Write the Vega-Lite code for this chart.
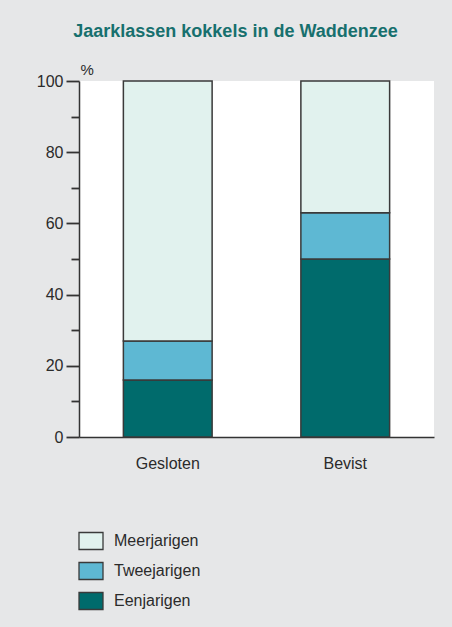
{
  "$schema": "https://vega.github.io/schema/vega-lite/v6.json",
  "autosize": {"type": "none"},
  "width": 355,
  "height": 356,
  "padding": {"left": 79, "top": 81, "right": 18, "bottom": 190},
  "background": "#e6e7e8",
  "view": {"fill": "white", "stroke": null},
  "title": {
    "text": "Jaarklassen kokkels in de Waddenzee",
    "font": "Liberation Sans",
    "fontSize": 18,
    "fontWeight": "bold",
    "color": "#17706e",
    "anchor": "middle",
    "dx": -21,
    "baseline": "bottom",
    "offset": 3
  },
  "data": {
    "values": [
      {"groep": "Gesloten", "klasse": "Eenjarigen", "rank": 1, "pct": 16},
      {"groep": "Gesloten", "klasse": "Tweejarigen", "rank": 2, "pct": 11},
      {"groep": "Gesloten", "klasse": "Meerjarigen", "rank": 3, "pct": 73},
      {"groep": "Bevist", "klasse": "Eenjarigen", "rank": 1, "pct": 50},
      {"groep": "Bevist", "klasse": "Tweejarigen", "rank": 2, "pct": 13},
      {"groep": "Bevist", "klasse": "Meerjarigen", "rank": 3, "pct": 37}
    ]
  },
  "mark": {"type": "bar", "stroke": "#3a3a3a", "strokeWidth": 1.5},
  "encoding": {
    "x": {
      "field": "groep",
      "type": "nominal",
      "sort": ["Gesloten", "Bevist"],
      "scale": {"paddingInner": 0.5, "paddingOuter": 0.25},
      "axis": {
        "title": null,
        "labelAngle": 0,
        "ticks": false,
        "domainColor": "#333333",
        "domainWidth": 1.5,
        "labelFont": "Liberation Sans",
        "labelFontSize": 16,
        "labelColor": "#2b2b2b",
        "labelPadding": 18
      }
    },
    "y": {
      "field": "pct",
      "type": "quantitative",
      "stack": "zero",
      "scale": {"domain": [0, 100], "nice": false},
      "axis": {
        "title": "%",
        "titleAngle": 0,
        "titleAlign": "left",
        "titleBaseline": "bottom",
        "titleX": 1,
        "titleY": -4,
        "titleFont": "Liberation Sans",
        "titleFontSize": 15,
        "titleFontWeight": "normal",
        "titleColor": "#2b2b2b",
        "values": [0, 10, 20, 30, 40, 50, 60, 70, 80, 90, 100],
        "labelExpr": "datum.value % 20 === 0 ? datum.label : ''",
        "tickSize": {"condition": {"test": "datum.value % 20 === 0", "value": 13}, "value": 8},
        "tickColor": "#333333",
        "tickWidth": 1.8,
        "domainColor": "#333333",
        "domainWidth": 1.5,
        "grid": false,
        "labelFont": "Liberation Sans",
        "labelFontSize": 16,
        "labelColor": "#2b2b2b",
        "labelPadding": 3
      }
    },
    "color": {
      "field": "klasse",
      "type": "nominal",
      "scale": {
        "domain": ["Meerjarigen", "Tweejarigen", "Eenjarigen"],
        "range": ["#e1f2ee", "#5eb8d3", "#006b6c"]
      },
      "legend": {
        "title": null,
        "orient": "none",
        "legendX": 1,
        "legendY": 449,
        "padding": 0,
        "symbolType": "M-1.2,-0.85H1.2V0.85H-1.2Z",
        "symbolSize": 400,
        "symbolStrokeColor": "#3a3a3a",
        "symbolStrokeWidth": 1.3,
        "symbolOpacity": 1,
        "symbolOffset": 0,
        "labelOffset": 12,
        "rowPadding": 6,
        "labelFont": "Liberation Sans",
        "labelFontSize": 16,
        "labelColor": "#2b2b2b"
      }
    },
    "order": {"field": "rank", "type": "quantitative"}
  }
}
